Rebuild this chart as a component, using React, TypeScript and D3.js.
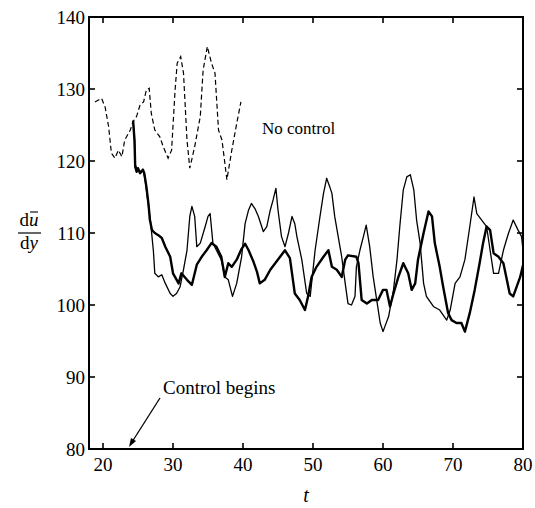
import React from "react";
import * as d3 from "d3";

const yTicks = [80, 90, 100, 110, 120, 130, 140];
const xTicks = [20, 30, 40, 50, 60, 70, 80];

const noControlT = [18.85, 19.8, 20.3, 20.8, 21.2, 21.7, 22.2, 22.7, 23.1, 23.9, 24.3, 24.8, 25.3, 25.8, 26.2, 26.6, 26.9, 27.4, 28.1, 28.6, 29.3, 29.8, 30.3, 30.6, 31.1, 31.5, 32.0, 32.4, 33.1, 33.9, 34.3, 34.9, 35.5, 36.0, 36.5, 37.0, 37.7, 38.4, 39.1, 39.7];
const noControlV = [128.2, 128.7, 127.5, 124.8, 121.1, 120.4, 121.5, 120.6, 122.9, 124.3, 125.5, 126.2, 127.8, 128.2, 129.9, 130.1, 126.6, 124.3, 123.4, 122.0, 120.4, 121.5, 129.9, 133.6, 134.5, 132.2, 122.9, 119.0, 122.0, 126.2, 132.6, 135.9, 133.6, 132.2, 124.3, 122.9, 117.4, 121.5, 125.2, 128.2];

const thickT = [24.3, 24.5, 24.6, 24.8, 25.0, 25.3, 25.7, 25.9, 26.2, 26.5, 26.7, 27.0, 27.4, 27.9, 28.4, 28.9, 29.6, 30.0, 30.8, 31.2, 32.0, 32.7, 33.4, 34.1, 34.8, 35.5, 36.2, 36.9, 37.4, 37.9, 38.4, 39.1, 39.8, 40.3, 40.8, 41.5, 42.0, 42.4, 43.1, 43.9, 44.6, 45.3, 46.0, 46.7, 47.4, 48.1, 48.85, 49.3, 49.8, 50.5, 51.5, 52.2, 52.7, 53.4, 54.1, 54.6, 55.0, 56.2, 56.5, 56.95, 57.7, 58.4, 59.3, 60.0, 60.5, 61.0, 61.5, 62.2, 62.9, 63.6, 64.1, 64.6, 65.0, 65.8, 66.5, 67.0, 67.4, 68.1, 68.6, 69.3, 69.8, 70.5, 71.2, 71.7, 72.4, 73.1, 73.8, 74.3, 74.8, 75.3, 75.8, 76.5, 77.2, 78.1, 78.6, 79.6, 80.0];
const thickV = [125.6, 122.9, 119.2, 118.5, 119.0, 118.3, 118.8, 118.3, 116.4, 114.0, 111.8, 110.4, 110.0, 109.7, 109.3, 108.1, 106.7, 104.4, 103.0, 104.4, 103.5, 102.8, 105.6, 106.7, 107.6, 108.6, 108.1, 106.7, 103.9, 105.8, 105.3, 106.3, 107.8, 108.5, 107.6, 106.0, 104.6, 103.0, 103.5, 104.9, 105.8, 106.7, 107.6, 106.5, 101.6, 100.7, 99.3, 101.2, 103.9, 105.3, 106.7, 107.6, 105.3, 104.9, 103.9, 106.3, 106.9, 106.7, 105.8, 100.7, 100.2, 100.7, 100.7, 102.1, 102.1, 99.8, 101.6, 103.9, 105.8, 104.4, 102.1, 103.0, 106.3, 110.0, 113.0, 112.3, 108.6, 105.3, 102.5, 98.9, 97.9, 97.5, 97.5, 96.3, 98.9, 102.1, 105.8, 108.6, 110.9, 110.4, 107.2, 106.7, 105.8, 101.6, 101.2, 103.9, 105.5];

const thinT = [24.3, 24.5, 24.6, 24.9, 25.3, 25.7, 26.0, 26.4, 26.8, 27.0, 27.2, 27.4, 27.9, 28.4, 28.9, 29.6, 30.0, 30.5, 31.0, 31.5, 32.0, 32.4, 32.7, 33.1, 33.4, 33.9, 34.6, 35.0, 35.3, 35.7, 36.2, 36.9, 37.4, 37.9, 38.5, 39.1, 39.8, 40.3, 40.8, 41.2, 41.7, 42.2, 42.9, 43.4, 43.9, 44.3, 44.7, 45.0, 45.5, 46.0, 46.5, 47.0, 47.4, 47.7, 48.4, 49.1, 49.6, 50.3, 51.0, 51.5, 51.95, 52.4, 52.7, 53.1, 53.6, 54.1, 54.6, 55.0, 55.5, 56.0, 56.2, 56.7, 57.2, 57.6, 58.1, 58.6, 59.1, 59.6, 60.0, 60.8, 61.5, 62.0, 62.4, 62.9, 63.4, 63.9, 64.4, 64.8, 65.3, 65.8, 66.2, 67.2, 68.1, 69.1, 69.6, 70.3, 71.0, 71.7, 72.4, 73.0, 73.4, 74.1, 74.8, 75.3, 75.8, 76.5, 77.2, 77.9, 78.6, 79.3, 79.8, 80.0];
const thinV = [125.6, 122.9, 119.5, 118.8, 118.5, 118.8, 117.5, 114.5, 111.5, 109.5, 107.5, 104.4, 103.9, 104.2, 103.0, 101.6, 101.2, 101.6, 102.5, 104.9, 107.6, 112.3, 113.7, 112.3, 108.1, 108.6, 110.9, 112.3, 112.7, 108.6, 107.6, 106.3, 103.9, 103.5, 101.2, 103.0, 106.7, 111.3, 113.2, 114.1, 113.4, 112.3, 110.2, 110.9, 113.2, 114.6, 116.2, 113.2, 109.5, 108.1, 110.0, 112.3, 111.3, 109.5, 106.3, 101.6, 101.2, 107.6, 112.3, 115.5, 117.6, 116.4, 115.5, 112.3, 109.5, 106.7, 103.0, 100.2, 100.0, 101.2, 105.3, 107.6, 109.5, 111.1, 108.1, 103.9, 100.7, 97.5, 96.3, 98.4, 102.1, 106.3, 110.9, 116.0, 117.8, 118.1, 116.0, 111.8, 108.6, 103.0, 101.2, 99.8, 99.3, 97.9, 99.3, 103.0, 103.9, 106.3, 110.9, 115.0, 112.7, 111.8, 110.9, 107.6, 104.4, 104.4, 107.6, 109.9, 111.8, 110.4, 109.5, 107.6];

const FONT = "'Liberation Serif', 'Times New Roman', serif";

export default function App() {
  const x = d3.scaleLinear().domain([18, 80]).range([89, 523]);
  const y = d3.scaleLinear().domain([80, 140]).range([449, 17]);
  const line = d3
    .line<[number, number]>()
    .x((d) => x(d[0]))
    .y((d) => y(d[1]));
  const zip = (a: number[], b: number[]) => a.map((t, i) => [t, b[i]] as [number, number]);

  const x0 = x(18), x1 = x(80), y0 = y(80), y1 = y(140);
  const tick = 6;

  return (
    <svg
      width={535}
      height={508}
      style={{ position: "absolute", left: 0, top: 0, background: "#fff" }}
      fontFamily={FONT}
    >
      <rect x={0} y={0} width={535} height={508} fill="#fff" />
      <rect x={x0} y={y1} width={x1 - x0} height={y0 - y1} fill="none" stroke="#000" strokeWidth={2} />
      {yTicks.map((v) => (
        <g key={"y" + v}>
          {v !== 80 && v !== 140 && (
            <>
              <line x1={x0} x2={x0 + tick} y1={y(v)} y2={y(v)} stroke="#000" strokeWidth={1.6} />
              <line x1={x1} x2={x1 - tick} y1={y(v)} y2={y(v)} stroke="#000" strokeWidth={1.6} />
            </>
          )}
          <text x={x0 - 4} y={y(v)} dy="0.35em" textAnchor="end" fontSize={19} fill="#000">
            {v}
          </text>
        </g>
      ))}
      {xTicks.map((t) => (
        <g key={"x" + t}>
          {t !== 80 && (
            <>
              <line x1={x(t)} x2={x(t)} y1={y0} y2={y0 - tick} stroke="#000" strokeWidth={1.6} />
              <line x1={x(t)} x2={x(t)} y1={y1} y2={y1 + tick} stroke="#000" strokeWidth={1.6} />
            </>
          )}
          <text x={x(t)} y={y0 + 22} textAnchor="middle" fontSize={19} fill="#000">
            {t}
          </text>
        </g>
      ))}
      <text x={(x0 + x1) / 2} y={502} textAnchor="middle" fontSize={20} fontStyle="italic" fill="#000">
        t
      </text>
      <g>
        <text x={29} y={226} textAnchor="middle" fontSize={19} fill="#000">
          d<tspan fontStyle="italic">u</tspan>
        </text>
        <line x1={30} x2={38} y1={212} y2={212} stroke="#000" strokeWidth={1.1} />
        <line x1={18} x2={41} y1={233} y2={233} stroke="#000" strokeWidth={1.2} />
        <text x={29} y={249} textAnchor="middle" fontSize={19} fill="#000">
          d<tspan fontStyle="italic">y</tspan>
        </text>
      </g>
      <path d={line(zip(noControlT, noControlV)) || ""} fill="none" stroke="#000" strokeWidth={1.2} strokeDasharray="5,3" />
      <path d={line(zip(thinT, thinV)) || ""} fill="none" stroke="#000" strokeWidth={1.3} strokeLinejoin="round" />
      <path d={line(zip(thickT, thickV)) || ""} fill="none" stroke="#000" strokeWidth={2.4} strokeLinejoin="round" />
      <text x={262} y={134} fontSize={17} fill="#000">
        No control
      </text>
      <text x={163} y={394} fontSize={19} fill="#000">
        Control begins
      </text>
      <line x1={160} y1={398} x2={132} y2={442} stroke="#000" strokeWidth={1.3} />
      <path d="M129,447 L131,438 L136,441 Z" fill="#000" />
    </svg>
  );
}
